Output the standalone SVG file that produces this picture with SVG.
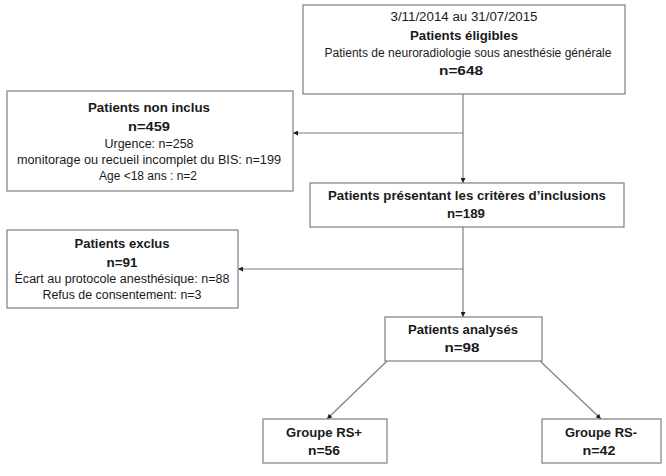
<svg xmlns="http://www.w3.org/2000/svg" width="666" height="476" viewBox="0 0 666 476">
<style>
.box{fill:#fff;stroke:#7f7f7f;stroke-width:1.2}
.ln{fill:none;stroke:#7f7f7f;stroke-width:1.2}
text{font-family:"Liberation Sans",Arial,sans-serif;fill:#1a1a1a;text-anchor:middle;font-size:12.5px}
.b{font-weight:bold;font-size:13.5px}
</style>
<defs>
<marker id="ah" viewBox="0 0 10 10" refX="10" refY="5" markerWidth="5" markerHeight="5" orient="auto" markerUnits="userSpaceOnUse">
<path d="M0,0 L10,5 L0,10 z" fill="#222"/>
</marker>
</defs>
<g id="connectors">
<line class="ln" x1="463" y1="94" x2="463" y2="183" marker-end="url(#ah)"/>
<line class="ln" x1="463" y1="133" x2="293" y2="133" marker-end="url(#ah)"/>
<line class="ln" x1="463" y1="227" x2="463" y2="317" marker-end="url(#ah)"/>
<line class="ln" x1="463" y1="269" x2="238" y2="269" marker-end="url(#ah)"/>
<line class="ln" x1="387" y1="361" x2="327" y2="419" marker-end="url(#ah)"/>
<line class="ln" x1="540" y1="361" x2="601" y2="419" marker-end="url(#ah)"/>
</g>
<g id="eligibles">
<rect class="box" x="303" y="5" width="322" height="89"/>
<text x="464" y="21" textLength="147" lengthAdjust="spacingAndGlyphs">3/11/2014 au 31/07/2015</text>
<text class="b" x="464" y="40" textLength="108" lengthAdjust="spacingAndGlyphs">Patients éligibles</text>
<text x="468" y="57" textLength="287" lengthAdjust="spacingAndGlyphs">Patients de neuroradiologie sous anesthésie générale</text>
<text class="b" x="461" y="75" textLength="44" lengthAdjust="spacingAndGlyphs">n=648</text>
</g>
<g id="non-inclus">
<rect class="box" x="7" y="91" width="286" height="100"/>
<text class="b" x="149" y="112" textLength="122" lengthAdjust="spacingAndGlyphs">Patients non inclus</text>
<text class="b" x="149" y="131" textLength="42" lengthAdjust="spacingAndGlyphs">n=459</text>
<text x="149" y="148" textLength="89" lengthAdjust="spacingAndGlyphs">Urgence: n=258</text>
<text x="149" y="164" textLength="264" lengthAdjust="spacingAndGlyphs">monitorage ou recueil incomplet du BIS: n=199</text>
<text x="148" y="180" textLength="98" lengthAdjust="spacingAndGlyphs">Age &lt;18 ans : n=2</text>
</g>
<g id="criteres">
<rect class="box" x="310" y="183" width="314" height="44"/>
<text class="b" x="467" y="200" textLength="278" lengthAdjust="spacingAndGlyphs">Patients présentant les critères d’inclusions</text>
<text class="b" x="466" y="218" textLength="38" lengthAdjust="spacingAndGlyphs">n=189</text>
</g>
<g id="exclus">
<rect class="box" x="7" y="230" width="231" height="78"/>
<text class="b" x="122" y="248" textLength="95" lengthAdjust="spacingAndGlyphs">Patients exclus</text>
<text class="b" x="122" y="267" textLength="31" lengthAdjust="spacingAndGlyphs">n=91</text>
<text x="122" y="283" textLength="215" lengthAdjust="spacingAndGlyphs">Écart au protocole anesthésique: n=88</text>
<text x="122" y="299" textLength="159" lengthAdjust="spacingAndGlyphs">Refus de consentement: n=3</text>
</g>
<g id="analyses">
<rect class="box" x="385" y="317" width="157" height="44"/>
<text class="b" x="463" y="334" textLength="110" lengthAdjust="spacingAndGlyphs">Patients analysés</text>
<text class="b" x="462" y="352" textLength="35" lengthAdjust="spacingAndGlyphs">n=98</text>
</g>
<g id="rs-plus">
<rect class="box" x="263" y="419" width="124" height="44"/>
<text class="b" x="324" y="437" textLength="76" lengthAdjust="spacingAndGlyphs">Groupe RS+</text>
<text class="b" x="324" y="455" textLength="32" lengthAdjust="spacingAndGlyphs">n=56</text>
</g>
<g id="rs-moins">
<rect class="box" x="542" y="419" width="119" height="44"/>
<text class="b" x="601" y="437" textLength="72" lengthAdjust="spacingAndGlyphs">Groupe RS-</text>
<text class="b" x="599" y="455" textLength="33" lengthAdjust="spacingAndGlyphs">n=42</text>
</g>
</svg>
